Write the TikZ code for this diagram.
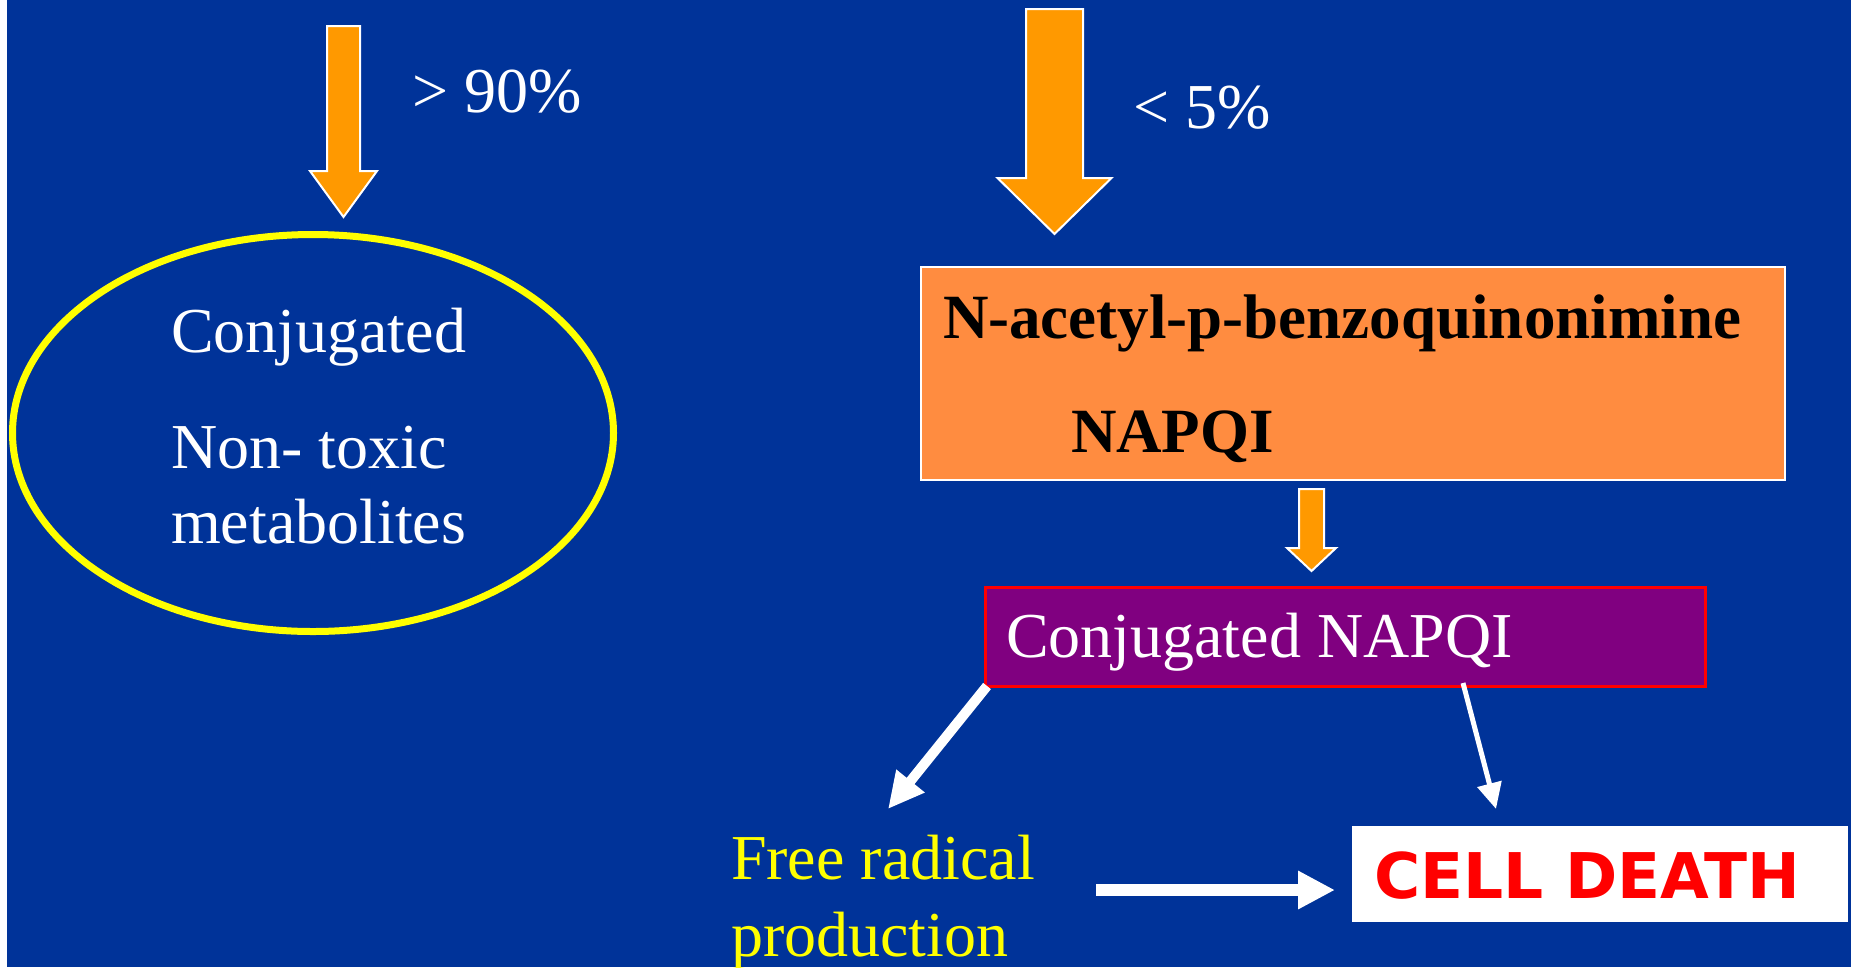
\documentclass[tikz,border=0pt]{standalone}
\usepackage{fontspec}
\setmainfont{Liberation Serif}
\newfontfamily\cdfont{DejaVu Sans}
\usetikzlibrary{shapes.geometric,arrows.meta,calc}
\definecolor{bgblue}{RGB}{0,51,153}
\definecolor{arrorange}{RGB}{255,153,0}
\definecolor{boxorange}{RGB}{255,140,64}
\definecolor{napqipurple}{RGB}{128,0,128}
\definecolor{txtyellow}{RGB}{255,255,0}
\definecolor{cdred}{RGB}{255,0,0}
\newcommand\blockarr[6]{%
  \filldraw[blockarrow] (#1-#3,#2) -- (#1+#3,#2) -- (#1+#3,#5) -- (#1+#4,#5) -- (#1,#6) -- (#1-#4,#5) -- (#1-#3,#5) -- cycle;}
\tikzset{
  blockarrow/.style={fill=arrorange,draw=white,line width=2,line join=miter},
  txt/.style={anchor=base west,inner sep=0,outer sep=0,text=white,font=\fontsize{64}{75}\selectfont},
  btxt/.style={anchor=base west,inner sep=0,outer sep=0,text=black,font=\fontsize{63}{75}\selectfont\bfseries},
  ytxt/.style={txt,text=txtyellow},
  whitearrow/.style={draw=white,line width=#1},
}
\begin{document}
\begin{tikzpicture}[x=1pt,y=-1pt]
\useasboundingbox (0,0) rectangle (1851,967);
\fill[white] (0,0) rectangle (7,967);
\fill[bgblue] (7,0) rectangle (1851,967);

% left branch
\blockarr{343.5}{26}{16.5}{33.5}{171}{217}
\node[txt] (p90) at (412,112) {> 90\%};
\node[ellipse,draw=txtyellow,line width=7,minimum width=601,minimum height=397,inner sep=0] (ell) at (313,433) {};
\node[txt] (conj) at (171,352) {Conjugated};
\node[txt] (nontox) at (171,468) {Non- toxic};
\node[txt] (metab) at (171,543) {metabolites};

% right branch
\blockarr{1054.5}{9}{28.5}{57}{178}{234}
\node[txt] (p5) at (1133,128) {< 5\%};
\node[draw=white,line width=2,fill=boxorange,minimum width=864,minimum height=213,inner sep=0,anchor=north west] (napqi) at (920,266) {};
\node[btxt] (napqiname) at (943,338) {N-acetyl-p-benzoquinonimine};
\node[btxt] (napqiabbr) at (1071,452) {NAPQI};
\blockarr{1311.5}{489}{12.5}{24.5}{548}{571}
\node[draw=cdred,line width=3,fill=napqipurple,minimum width=720,minimum height=99,inner sep=0,anchor=north west] (conjnapqi) at (984,586) {};
\node[txt] (conjnapqitxt) at (1006,657) {Conjugated NAPQI};

% bottom
\node[ytxt] (free) at (731,879) {Free radical};
\node[ytxt] (prod) at (731,956) {production};
\node[fill=white,minimum width=496,minimum height=96,inner sep=0,anchor=north west] (death) at (1352,826) {};
\node[anchor=base west,inner sep=0,text=cdred,font=\fontsize{63}{75}\selectfont\cdfont\bfseries] (deathtxt) at (1374,898) {CELL DEATH};

% connectors
\coordinate (fromL) at ($(conjnapqi.south west)+(3,-2)$);
\coordinate (tipL) at (888,809);
\coordinate (fromR) at (1463,683);
\coordinate (tipR) at (1496,809);
\coordinate (fromH) at (1096,890);
\coordinate (tipH) at (1335,890);
\draw[whitearrow=10,-{Triangle[width=34,length=36]}] (fromL) -- (tipL);
\draw[whitearrow=5,-{Triangle[width=24,length=26]}] (fromR) -- (tipR);
\draw[whitearrow=12,-{Triangle[width=36,length=37]}] (fromH) -- (tipH);
\end{tikzpicture}
\end{document}
